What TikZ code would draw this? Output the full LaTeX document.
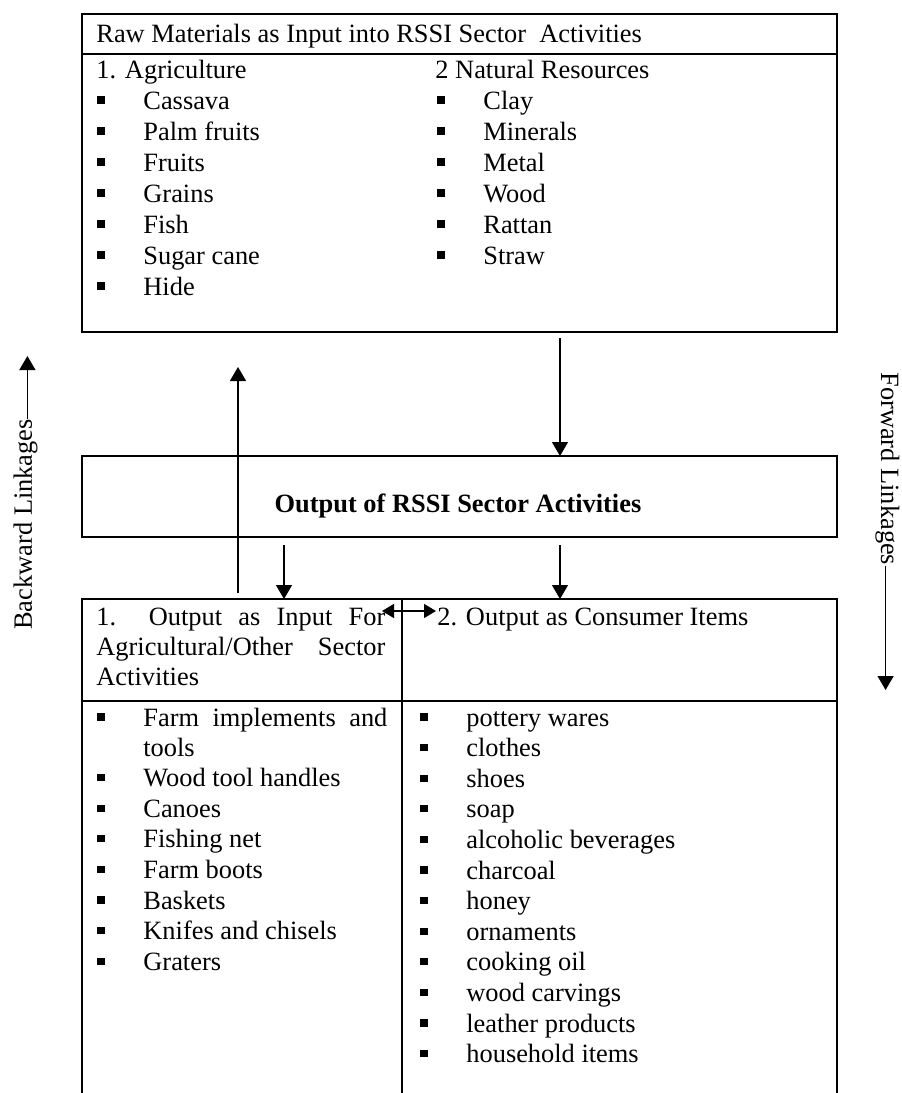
\documentclass[tikz,border=0pt]{standalone}
\usepackage{fontspec}
\setmainfont{Liberation Serif}
\usepackage{tikz}
\usetikzlibrary{arrows.meta,positioning,calc}
\newcommand{\rssifont}{\fontsize{13.2}{15.3}\selectfont}
\newcommand{\sqbul}{\rule[2.7pt]{3.6pt}{3.6pt}}
\tikzset{
    link/.style   = {-{Triangle[length=7pt,width=8pt]}, line width=0.7pt},
    twoway/.style = {{Triangle[length=6pt,width=7pt]}-{Triangle[length=6pt,width=7pt]}, line width=0.7pt},
    box/.style    = {draw, line width=0.9pt, inner sep=0pt, outer sep=0pt},
    txt/.style    = {inner sep=0pt, anchor=base west, font=\rssifont},
    item/.style   = {txt, execute at begin node={\makebox[23pt][l]{\sqbul}}},
}
\begin{document}
\begin{tikzpicture}[x=0.5pt, y=-0.5pt]
    \useasboundingbox (0,0) rectangle (901,1093);
    % Boxes
    \node[box, anchor=north west, minimum width=377.5pt, minimum height=20pt] (rawhead) at (82,14) {};
    \node[box, below=0pt of rawhead, minimum width=377.5pt, minimum height=139pt] (rawbody) {};
    \node[box, below=62pt of rawbody, minimum width=377.5pt, minimum height=40.5pt] (outbox) {};
    \node[box, below=31pt of outbox.south west, anchor=north west, minimum width=160pt, minimum height=51pt] (inhead) {};
    \node[box, right=0pt of inhead, minimum width=217.5pt, minimum height=51pt] (conhead) {};
    \node[box, below=0pt of inhead, minimum width=160pt, minimum height=215pt] (inbody) {};
    \node[box, below=0pt of conhead, minimum width=217.5pt, minimum height=215pt] (conbody) {};
    % Raw materials
    \node[txt] (rawtitle) at (96,42) {Raw Materials as Input into RSSI Sector\ \ Activities};
    \node[txt] (agri) at (96,78) {1. Agriculture};
    \foreach \crop [count=\i] in {Cassava,Palm fruits,Fruits,Grains,Fish,Sugar cane,Hide}
        \node[item] (agri\i) at (97,{78+31*\i}) {\crop};
    \node[txt] (natres) at (435,78) {2 Natural Resources};
    \foreach \res [count=\i] in {Clay,Minerals,Metal,Wood,Rattan,Straw}
        \node[item] (natres\i) at (437,{78+31*\i}) {\res};
    % Output
    \node[txt, anchor=base, font=\rssifont\bfseries] (outtitle) at (458,512) {Output of RSSI Sector Activities};
    \node[txt] (inhdr1) at (96,625) {\makebox[144.5pt][s]{1.\ \ Output as Input For}};
    \node[txt] (inhdr2) at (96,655) {\makebox[144.5pt][s]{Agricultural/Other\ \ Sector}};
    \node[txt] (inhdr3) at (96,685) {Activities};
    \node[txt] (conhdr) at (437,625) {2. Output as Consumer Items};
    \node[item] (tool1) at (97,726) {\makebox[122pt][s]{Farm implements and}};
    \node[txt] (tool1b) at (143,756) {tools};
    \foreach \tool [count=\i from 2] in {Wood tool handles,Canoes,Fishing net,Farm boots,Baskets,Knifes and chisels,Graters}
        \node[item] (tool\i) at (97,{756+30.6*(\i-1)}) {\tool};
    \foreach \ware [count=\i] in {pottery wares,clothes,shoes,soap,alcoholic beverages,charcoal,honey,ornaments,cooking oil,wood carvings,leather products,household items}
        \node[item] (ware\i) at (420,{695.4+30.6*\i}) {\ware};
    % Side labels
    \node[txt, rotate=90] (backlbl) at (32,630) {Backward Linkages};
    \node[txt, rotate=-90] (fwdlbl) at (881,372) {Forward Linkages};
    % Arrows
    \coordinate (uptip) at (238,367);
    \coordinate (lcol) at (284,0);
    \coordinate (rcol) at (560,0);
    \coordinate (swapL) at (382,611);
    \coordinate (swapR) at (436,611);
    \draw[link, shorten <=3pt] (inhead.north -| uptip) -- (uptip);
    \draw[link, shorten <=4pt] (outbox.south -| lcol) -- (inhead.north -| lcol);
    \draw[link, shorten <=3pt] (rawbody.south -| rcol) -- (outbox.north -| rcol);
    \draw[link, shorten <=4pt] (outbox.south -| rcol) -- (conhead.north -| rcol);
    \draw[twoway] (swapL) -- (swapR);
    \draw[link] (backlbl.mid east) -- (backlbl.mid east |- 0,356);
    \draw[link] (fwdlbl.mid east) -- (fwdlbl.mid east |- 0,690);
\end{tikzpicture}
\end{document}
